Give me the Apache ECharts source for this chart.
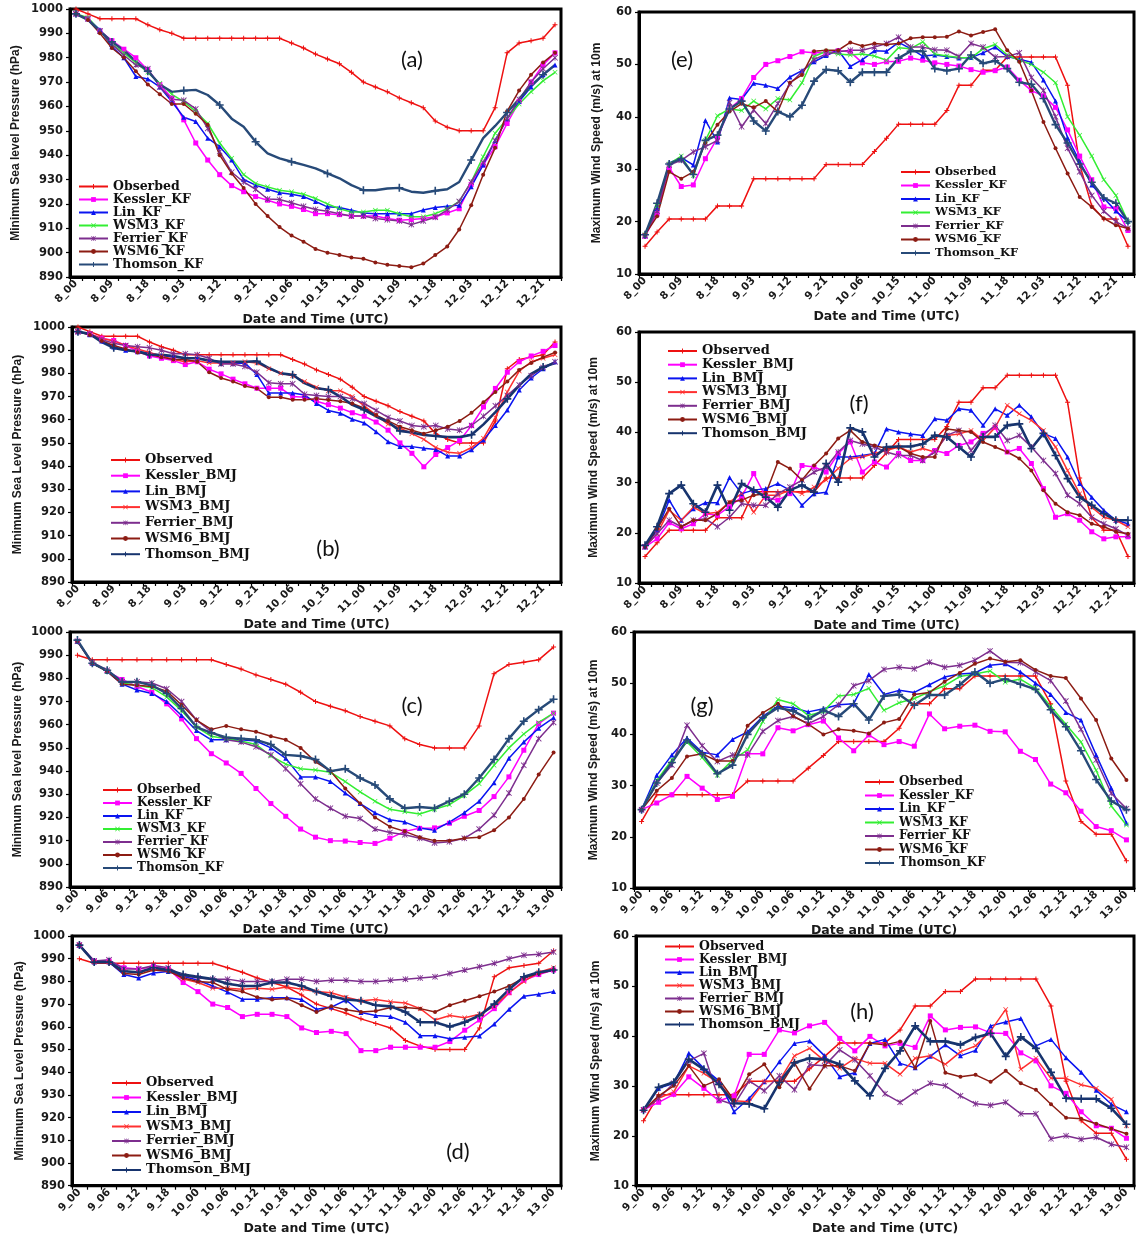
<!DOCTYPE html>
<html>
<head>
<meta charset="utf-8">
<script src="https://cdn.jsdelivr.net/npm/echarts@6/dist/echarts.min.js"></script>
<style>
html,body{margin:0;padding:0;background:#fff}
#chart{width:1137px;height:1236px}
</style>
</head>
<body>
<div id="chart"></div>
<script>
// ---- time axis (3-hourly, day_hour) ----
const catsLong = ['8_00','8_03','8_06','8_09','8_12','8_15','8_18','8_21','9_00','9_03','9_06','9_09','9_12','9_15','9_18','9_21','10_00','10_03','10_06','10_09','10_12','10_15','10_18','10_21','11_00','11_03','11_06','11_09','11_12','11_15','11_18','11_21','12_00','12_03','12_06','12_09','12_12','12_15','12_18','12_21','13_00'];
const catsShort = ['9_00','9_03','9_06','9_09','9_12','9_15','9_18','9_21','10_00','10_03','10_06','10_09','10_12','10_15','10_18','10_21','11_00','11_03','11_06','11_09','11_12','11_15','11_18','11_21','12_00','12_03','12_06','12_09','12_12','12_15','12_18','12_21','13_00'];

// ---- observed track (8_00 .. 13_00) ----
const obsPressure = [1000, 998, 996, 996, 996, 996, 993.5, 991.5, 990, 988, 988, 988, 988, 988, 988, 988, 988, 988, 986, 984, 981.5, 979.5, 977.5, 974, 970, 968, 966, 963.5, 961.5, 959.5, 954, 951.5, 950, 950, 950, 959.5, 982, 986, 987, 988, 993.5];
const obsWind = [15.3, 18, 20.5, 20.5, 20.5, 20.5, 23, 23, 23, 28.2, 28.2, 28.2, 28.2, 28.2, 28.2, 30.9, 30.9, 30.9, 30.9, 33.4, 35.9, 38.6, 38.6, 38.6, 38.6, 41.2, 46, 46, 48.9, 48.9, 51.4, 51.4, 51.4, 51.4, 51.4, 46, 30.9, 23, 20.5, 20.5, 15.3];

// ---- (a) MSLP, KF runs from 8_00 ----
const kesslerKF_a = [998, 996, 991, 987, 983.5, 980, 975, 969, 963.5, 954.5, 945, 938, 932, 927.5, 925, 923, 921.5, 920, 919, 917.7, 916, 916, 915.6, 915, 915, 915, 914, 913.3, 913.6, 914, 914.7, 916.3, 918, 928, 936, 943.5, 953, 962, 970, 977, 982];
const linKF_a = [998, 996, 991.5, 984.5, 980, 972.3, 971.3, 968, 962, 955.6, 953.8, 947, 943.5, 938, 930, 927.7, 926, 924.6, 924, 923, 921, 918.8, 918.5, 917.4, 916.3, 916, 916, 916, 916, 917.5, 918.5, 919, 919.5, 927, 936, 946, 955, 962, 968, 973, 977];
const wsm3KF_a = [998, 996.5, 991, 985.5, 982, 978, 974, 969.5, 965, 962, 958, 953, 945, 938.7, 932, 928.4, 927, 925.6, 925, 924, 922.2, 920, 918, 916.7, 916.7, 917.4, 917.4, 916, 914.7, 914.7, 916, 918, 921, 929, 939.4, 949, 955, 961, 966, 970.5, 974];
const ferrierKF_a = [998, 996, 991, 985.5, 981, 977, 975.5, 968, 963, 962.5, 959, 951, 941.5, 933, 929, 926, 922, 921.8, 920.5, 919, 917.7, 917, 916, 915, 915, 914, 913.5, 913, 911.5, 913, 914.5, 917.5, 921, 929, 937, 946, 955, 963, 970, 975.5, 980];
const wsm6KF_a = [998, 995.5, 990, 984, 980, 974.5, 969, 965, 961, 961, 957, 952.5, 940, 932.5, 926.5, 920, 915, 910.5, 907, 904.5, 901.5, 900, 899, 898, 897.5, 896, 895, 894.5, 894, 895.5, 899, 902.5, 909.5, 919.5, 932, 943, 958, 966.5, 973, 978, 982];
const thomsonKF_a = [998, 995.5, 991, 986.5, 983, 978.5, 974.5, 969, 966, 966.5, 966.8, 964.7, 960.6, 955, 951.7, 945.5, 940.7, 938.7, 937.3, 936, 934.6, 932.5, 930.5, 927.7, 925.6, 925.6, 926.3, 926.6, 925, 924.6, 925.4, 926, 929, 938, 947, 952, 957.5, 963, 968.5, 973, 977];

// ---- (b) MSLP, BMJ runs from 8_00 ----
const kesslerBMJ_b = [998, 997, 995.2, 994.2, 992, 989.5, 987.5, 986.5, 985.5, 983.8, 985, 981.8, 979.8, 977.5, 975.5, 973.6, 973.6, 973.6, 970, 969.7, 968, 966.5, 965, 963, 961.5, 959, 955.5, 950, 945.5, 939.7, 945, 948, 951, 957.5, 965.5, 973.5, 980.5, 985, 987.5, 989.5, 992];
const linBMJ_b = [998, 996.7, 994, 991.4, 990, 989.3, 988.8, 987.6, 987, 986.6, 986.5, 985.6, 984.4, 984.4, 984.4, 979.5, 971.5, 971.5, 971.5, 970.7, 967, 964, 962.8, 960.2, 958.6, 954.8, 950.5, 948.4, 948.4, 947.7, 947.2, 944.3, 944.3, 947, 951.3, 957.5, 964.2, 972.8, 978, 982, 985];
const wsm3BMJ_b = [998, 997, 995, 994, 992, 990.5, 989, 987.5, 986, 985, 985.5, 984.5, 984.5, 984.5, 985, 984.5, 982, 980, 979, 976.5, 974, 972.5, 972.5, 970, 966, 962, 958, 956.5, 954, 951.5, 948, 946, 945.5, 948, 952, 961, 972, 981, 985, 986.5, 988];
const ferrierBMJ_b = [998, 997, 994.5, 993, 992, 991.5, 991, 990, 988.5, 988.5, 988, 986.5, 984, 984, 983, 980.5, 976, 975.5, 975.5, 971, 970.5, 970, 970, 969, 967, 964, 961, 959.5, 957.5, 957, 957.5, 956, 955.5, 957.5, 961.5, 966, 970.5, 975, 979, 982.5, 985];
const wsm6BMJ_b = [998, 996.5, 994, 992, 990.5, 989, 988, 987, 986, 986, 985, 980.5, 978, 976.5, 974.5, 973.5, 969.7, 969.7, 968.6, 968.6, 969, 968.5, 968, 967, 965, 962, 959.5, 957, 955.5, 954, 955.5, 957, 959.5, 963, 967.5, 972, 976.5, 981.5, 984.5, 987, 989];
const thomsonBMJ_b = [998, 997, 993.5, 991, 990, 989.5, 988, 988, 987.5, 986.5, 986.5, 985.5, 985, 985, 985, 985.2, 982.3, 980, 979.4, 975.8, 973.6, 972.9, 970, 966.4, 964.3, 961.4, 959, 955.2, 954.5, 953.4, 953, 952.5, 952.5, 953.5, 958, 963.3, 969, 974.8, 979.8, 982.7, 984.5];

// ---- (c) MSLP, KF runs from 9_00 ----
const kesslerKF_c = [996, 986.5, 983, 979.5, 976.5, 974, 969, 962.5, 954, 947.5, 943.5, 939, 932.5, 926, 920.5, 915, 911.5, 910, 909.8, 909.2, 908.8, 911, 914, 915.3, 915.5, 917.5, 920.5, 923, 929, 937.5, 949, 960.5, 965];
const linKF_c = [996, 986.5, 983, 977.5, 975, 973.5, 970, 964, 957.5, 953.5, 953.5, 953.5, 953, 950, 945.5, 937.5, 937.5, 935.5, 930.5, 926, 922, 919, 918, 915.5, 914.5, 918, 922, 927, 935, 945.5, 952.5, 958.5, 963];
const wsm3KF_c = [996, 986.5, 983, 978, 977, 976, 972, 966, 959, 955, 954, 953, 951.5, 946.5, 943, 941, 940.5, 939.5, 935.5, 931, 927, 923.5, 922.5, 921.5, 923.5, 925.5, 929.5, 934.5, 942.5, 950, 956, 961, 965];
const ferrierKF_c = [996, 987, 983.5, 978.5, 978.5, 978, 975.5, 970, 962, 957, 953.5, 952.5, 950.5, 947, 941, 934.5, 928, 924, 920.5, 919.5, 915, 913.5, 912.5, 911, 909, 909.5, 911, 915, 921, 930.5, 942.5, 954, 961];
const wsm6KF_c = [996, 986.5, 983, 977.5, 977, 976.5, 974.5, 968.5, 962, 958, 959.5, 958, 957, 955, 953.5, 950, 944, 940, 932.5, 926, 920, 916, 914, 911.5, 910, 910, 911, 911.5, 914.5, 920, 928, 938.5, 948];
const thomsonKF_c = [996.5, 986.5, 983.5, 978.5, 978.5, 977, 973.5, 967, 959, 956.5, 954.5, 954, 953.5, 951.5, 947, 946.5, 945, 940, 941, 937, 934, 928, 924, 924.5, 924, 927, 930, 937, 945, 954, 961.5, 966.5, 971];

// ---- (d) MSLP, BMJ runs from 9_00 ----
const kesslerBMJ_d = [996, 989, 989, 986, 985.5, 986.5, 985.5, 979.5, 975.5, 970, 968.5, 964.5, 965.5, 965.5, 964.5, 959.5, 957.5, 958, 957, 949.5, 949.5, 951, 951, 951, 951, 953.5, 958.5, 963, 968, 975, 980.5, 983, 985];
const linBMJ_d = [996, 988.5, 988.5, 983, 981.5, 983.7, 984.4, 982.3, 980.5, 978, 975.3, 972.1, 972.1, 972.8, 972.8, 972, 967.7, 968.7, 971.8, 966.3, 965, 964.5, 962, 956.1, 956.1, 954.7, 955.4, 956, 961.2, 967.7, 973.5, 974.3, 975.5];
const wsm3BMJ_d = [996, 988.5, 988.5, 984.5, 984, 985.5, 985, 981, 979.5, 977, 977, 976.5, 977, 976.5, 977.5, 976.5, 975.5, 975, 973, 971.5, 972, 971, 970.5, 968, 963, 965, 964, 965.5, 969, 975, 980, 984, 986];
const ferrierBMJ_d = [996, 989, 989.5, 985.5, 985.5, 987, 986, 982.5, 981.5, 981, 981, 980, 980, 980, 981, 981, 980, 980.5, 980.5, 980, 980, 980.5, 981, 981.5, 982, 983.5, 985, 986.5, 988, 990, 991.5, 992, 993];
const wsm6BMJ_d = [996, 988.5, 988.5, 983.5, 983, 985, 984.5, 981.5, 980, 979.5, 976.5, 975.5, 973, 972, 972.5, 969.5, 966.5, 969, 967.5, 966.5, 967, 968.5, 968.5, 968, 966.5, 969.5, 971.5, 973.5, 975.5, 978, 981.5, 983.5, 985];
const thomsonBMJ_d = [996, 988.5, 988.5, 984.5, 984, 986, 985, 983, 982, 981, 979, 978, 978, 979.5, 979.5, 978, 975.5, 973.5, 972, 971.5, 969.5, 969, 966.5, 962, 962, 960, 962, 965, 970, 976.5, 982, 984, 985];

// ---- (e) max 10 m wind, KF runs from 8_00 ----
const kesslerKF_e = [17.2, 21.5, 30.3, 26.7, 27, 32, 36, 41.5, 43.5, 47.5, 50, 50.7, 51.5, 52.4, 52.2, 52.2, 52.6, 52.4, 50.3, 50, 50.5, 50.6, 51.2, 50.8, 50.3, 50, 49.7, 49, 48.5, 48.8, 49.5, 47, 45, 44, 41.8, 37.5, 32.5, 28, 22.8, 22.5, 18.3];
const linKF_e = [17.4, 22.5, 31.2, 32.2, 30.8, 39.3, 35.2, 43.6, 43.3, 46.4, 46, 45.4, 47.6, 48.8, 50.5, 51.7, 52.7, 49.6, 50.9, 52.6, 52.5, 54.2, 53, 51.6, 51.8, 51.5, 51.2, 51.3, 52.2, 53.3, 51.5, 51, 50.4, 47, 43, 36, 31.5, 27, 24.5, 22, 20];
const wsm3KF_e = [17.5, 23, 31, 32.5, 28.8, 35.5, 40.2, 41.5, 41.2, 43, 41.5, 43.5, 43.2, 46.5, 51.5, 52.5, 52, 51.8, 52, 51.6, 50.8, 53.2, 53, 54.3, 52, 51.6, 51.3, 51.2, 53, 53.8, 51.8, 50.8, 50, 48.5, 46.5, 40, 36.5, 32.5, 28, 25, 20];
const ferrierKF_e = [17.3, 22, 30.8, 31.7, 33.3, 34.3, 35.5, 42.7, 38.1, 41.3, 38.7, 42.5, 46.3, 48.6, 50.9, 52, 52.4, 52.7, 52.7, 53.3, 54, 55.2, 53.3, 53.3, 52.8, 52.7, 51.5, 54, 53.3, 51.4, 51.5, 52.2, 47.5, 45, 40, 34, 29.5, 25, 22, 20, 18.7];
const wsm6KF_e = [17.5, 21, 29.5, 28.2, 29.5, 35, 38.5, 41, 42.5, 41.8, 43, 41, 46.5, 48, 52.5, 52.7, 52.7, 54.2, 53.5, 54, 53.8, 54, 55, 55.2, 55.2, 55.3, 56.3, 55.5, 56.2, 56.7, 52.7, 50.5, 45, 39, 34, 29.2, 24.7, 22.8, 20.6, 19.3, 18.7];
const thomsonKF_e = [17.5, 23.5, 31, 32, 29, 35.5, 36.5, 41.5, 43, 39.2, 37.3, 41, 40, 42.2, 46.8, 49, 48.8, 46.6, 48.5, 48.5, 48.5, 51.2, 52.5, 52.5, 49.2, 48.8, 49.2, 51.8, 50.2, 50.7, 49.2, 46.6, 46.2, 43.5, 38.5, 35, 31, 27.5, 24.5, 23.5, 20];

// ---- (f) max 10 m wind, BMJ runs from 8_00 ----
const kesslerBMJ_f = [17.2, 18.8, 22, 20.8, 21.8, 23.8, 23.5, 25.2, 27.1, 31.8, 27.1, 26.5, 27.8, 33.4, 33.1, 32.1, 35.8, 38.1, 32.1, 34.1, 33.1, 35.8, 34.4, 34.4, 36.4, 35.8, 37.4, 38.1, 39.8, 41, 36.1, 36.8, 33.8, 28.8, 23.1, 23.8, 22.5, 20.2, 18.8, 19.2, 19.2];
const linBMJ_f = [17.2, 20.5, 26.5, 22.5, 24.8, 26, 26, 31, 27.8, 28.5, 28.8, 29.8, 28.5, 25.5, 27.8, 28.1, 35.1, 35.1, 35.4, 35.8, 40.7, 40.1, 39.7, 39.4, 42.7, 42.4, 44.7, 44.4, 41.4, 44.7, 43.4, 45.4, 43.1, 39.8, 38.8, 35.1, 29.8, 27.1, 24.5, 22.5, 21.8];
const wsm3BMJ_f = [17.2, 19.8, 24.5, 22.5, 25.1, 23.8, 24.1, 26.1, 27.8, 24.1, 27.5, 27.5, 28.5, 27.8, 29.1, 30.5, 32.8, 34.8, 35.1, 35.8, 36.4, 37.1, 36.1, 36.8, 36.1, 39.4, 39.7, 40.4, 38.4, 41, 45.4, 43.7, 42.4, 40.4, 37.1, 32.4, 27.8, 25.1, 23.1, 22.5, 21.2];
const ferrierBMJ_f = [17.2, 19.8, 22.5, 21.2, 22.5, 22.8, 21.2, 23.1, 25.8, 25.5, 25.5, 27.8, 29.1, 30.5, 32.1, 33.1, 36.1, 38.4, 37.7, 37.1, 36.1, 35.4, 35.4, 34.4, 36.1, 39.4, 40.4, 36.4, 39.4, 41.4, 38.4, 39.4, 37.1, 34.4, 31.8, 27.5, 25.8, 23.1, 21.8, 20.8, 19.5];
const wsm6BMJ_f = [17.2, 20.8, 24.8, 21.2, 22.5, 22.5, 23.8, 26.1, 26.5, 27.5, 27.8, 34.1, 32.8, 30.5, 33.4, 35.8, 38.8, 40.4, 38.1, 37.4, 36.8, 37.1, 35.8, 35.1, 35.1, 40.7, 40.4, 40.1, 38.1, 37.1, 36.1, 34.8, 32.4, 28.5, 25.8, 24.1, 23.5, 21.8, 21.2, 20.2, 19.8];
const thomsonBMJ_f = [17.5, 21.2, 27.8, 29.5, 25.8, 24.1, 29.5, 24.5, 29.8, 28.5, 27.1, 25.1, 28.5, 29.5, 28.1, 33.8, 30.1, 40.9, 40.1, 35.1, 37.1, 37.2, 37.2, 37.7, 39.4, 39.1, 37.1, 35.1, 39.1, 39.1, 41.4, 41.7, 36.8, 39.8, 35.4, 30.8, 27.1, 25.5, 23.8, 22.5, 22.5];

// ---- (g) max 10 m wind, KF runs from 9_00 ----
const kesslerKF_g = [25.3, 26.6, 28.2, 31.8, 29.5, 27.3, 27.9, 36.2, 36.2, 41.3, 40.7, 41.9, 42.6, 39.3, 36.8, 39.9, 38, 38.6, 37.7, 44, 41.1, 41.6, 41.8, 40.6, 40.5, 36.7, 35.1, 30.3, 28.6, 25, 22, 21.2, 19.4];
const linKF_g = [25.3, 32, 36, 39.3, 36.5, 36, 39, 40.5, 43.5, 45.5, 45.2, 44.4, 45, 45.8, 46, 51.7, 47.8, 48.6, 48.2, 49.7, 51.2, 51.8, 52, 53.5, 53.8, 52.2, 50, 47.8, 44.3, 42.8, 36, 29.5, 22.7];
const wsm3KF_g = [25.3, 31, 35, 38.5, 35.5, 32, 35, 37, 42.5, 46.8, 46, 43.7, 44.5, 47.5, 47.8, 49, 44.7, 46.2, 47, 48.3, 49.5, 51.3, 51.8, 52.4, 50.2, 50.8, 49, 45.5, 42, 38.5, 33, 26, 22.3];
const ferrierKF_g = [25.3, 30.5, 34, 41.8, 37.8, 34.7, 36, 36, 40.6, 42.7, 43.5, 42.1, 43.5, 45.8, 49.5, 50.5, 52.7, 53.1, 52.8, 54.1, 53.1, 53.5, 54.5, 56.3, 54.1, 54, 52.2, 50.5, 46.5, 41, 35, 28.5, 25.5];
const wsm6KF_g = [25.3, 29, 31.5, 35.7, 36.2, 34.8, 34.8, 41.7, 44.2, 46, 43.6, 42, 40, 41, 40.7, 40.2, 42.3, 43, 47.8, 48.2, 50.3, 52, 53.8, 54.8, 54.2, 54.5, 52.6, 51.4, 51, 47, 42.8, 35.3, 31.1];
const thomsonKF_g = [25.3, 30.5, 34.5, 38.9, 36.2, 32.3, 34, 40, 43.3, 45.2, 44.6, 43, 44.7, 43.5, 46, 42.8, 47.5, 47.8, 45.7, 47.7, 47.7, 49.7, 52.2, 50, 50.8, 49.8, 48.8, 44.8, 41.5, 36.8, 31.2, 27, 25.3];

// ---- (h) max 10 m wind, BMJ runs from 9_00 ----
const kesslerBMJ_h = [25.2, 26.7, 28.3, 31.8, 29.5, 27, 28, 36.3, 36.3, 41.2, 40.6, 42, 42.7, 39.5, 37, 39.9, 38, 38.5, 37.7, 44, 41.2, 41.7, 41.8, 40.6, 40.5, 36.6, 35, 30, 28.5, 24.8, 22, 21.5, 19.5];
const linBMJ_h = [25.2, 29.5, 30.5, 36.5, 33.5, 31, 24.8, 27.5, 30.8, 34.8, 38.5, 39, 36, 31.8, 32.6, 38.5, 39.3, 34.5, 33.6, 35.9, 38.2, 36, 37.1, 42, 42.8, 43.5, 38, 39.3, 35.6, 32.7, 29.1, 26.3, 24.8];
const wsm3BMJ_h = [25.2, 27.5, 28.8, 34, 32.5, 30.5, 27, 26.8, 30.8, 31, 36, 37.5, 35, 33.5, 35.5, 34.5, 34.5, 32.3, 35.5, 36, 34.3, 36.8, 38, 41, 45.3, 33.3, 35.5, 31.5, 31.5, 30.2, 29.5, 27.3, 22];
const ferrierBMJ_h = [25.2, 27.5, 30.5, 35, 36.5, 27.2, 26.2, 31, 29, 32, 29.2, 34.2, 34, 37.2, 35.2, 32, 28.4, 26.7, 28.8, 30.5, 30, 28, 26.4, 26.1, 26.7, 24.4, 24.4, 19.4, 20, 19.3, 19.7, 18.3, 17.7];
const wsm6BMJ_h = [25.1, 28, 30, 34, 30, 31.3, 27.1, 32.3, 34.3, 29.7, 34.6, 29.4, 34, 34, 33, 38.5, 38.2, 38.9, 33.6, 43, 32.6, 31.8, 32.2, 30.8, 33, 30.5, 29.2, 26.3, 23.6, 23.4, 22.4, 21.4, 20.4];
const thomsonBMJ_h = [25.1, 29.7, 30.7, 35.3, 33.3, 30.3, 26.5, 26.4, 25.4, 30.7, 34.6, 35.5, 35.3, 34.3, 31, 28, 33.5, 37, 42, 38.9, 38.9, 38.2, 39.7, 40.5, 35.9, 39.8, 37.5, 32.7, 27.5, 27.4, 27.4, 25.5, 22.3];

// ---- legend names ----
const namesKF = ['Obserbed', 'Kessler_KF', 'Lin_KF', 'WSM3_KF', 'Ferrier_KF', 'WSM6_KF', 'Thomson_KF'];
const namesBMJ = ['Observed', 'Kessler_BMJ', 'Lin_BMJ', 'WSM3_BMJ', 'Ferrier_BMJ', 'WSM6_BMJ', 'Thomson_BMJ'];

// ---- marker shapes and line styles per scheme ----
const PLUS = 'path://M4,0H6V4H10V6H6V10H4V6H0V4H4Z';
const CROSS = 'path://M1,0L5,4L9,0L10,1L6,5L10,9L9,10L5,6L1,10L0,9L4,5L0,1Z';
const STAR = 'path://M1,0L5,4L9,0L10,1L6,5L10,9L9,10L5,6L1,10L0,9L4,5L0,1Z M4.4,0H5.6V10H4.4Z';

function styles(scheme) {
  const bmj = scheme === 'BMJ';
  return [
    { color: '#EE1111', symbol: PLUS, size: 5, width: 1.5 },
    { color: '#FF00FF', symbol: 'rect', size: 5, width: 1.5 },
    { color: '#0A14F0', symbol: 'triangle', size: 5, width: 1.5 },
    bmj ? { color: '#FF3030', symbol: CROSS, size: 5, width: 1.5 }
        : { color: '#33EE33', symbol: CROSS, size: 5, width: 1.5 },
    { color: '#7D2E8E', symbol: STAR, size: 6, width: 1.5 },
    { color: '#8C1C13', symbol: 'circle', size: 4, width: 1.5 },
    bmj ? { color: '#17346E', symbol: PLUS, size: 8, width: 2.6 }
        : { color: '#274A78', symbol: PLUS, size: 8, width: 2.4 }
  ];
}

const P_NAME_L = 'Minimum Sea level Pressure (hPa)';
const P_NAME_U = 'Minimum Sea Level Pressure (hPa)';
const W_NAME = 'Maximum Wind Speed (m/s) at 10m';

const panels = [
  { tag: '(a)', scheme: 'KF', kind: 'p', cats: catsLong, yName: P_NAME_L,
    box: [70, 9, 491, 268], yGap: 48, xGap: 33,
    leg: { left: 78, top: 180, fs: 12.5, lh: 12.5, gap: 0 }, mark: [412, 60],
    data: [obsPressure, kesslerKF_a, linKF_a, wsm3KF_a, ferrierKF_a, wsm6KF_a, thomsonKF_a] },
  { tag: '(b)', scheme: 'BMJ', kind: 'p', cats: catsLong, yName: P_NAME_U,
    box: [72, 327, 489, 255], yGap: 48, xGap: 33,
    leg: { left: 110, top: 453, fs: 13, lh: 14, gap: 1.7 }, mark: [328, 549],
    data: [obsPressure, kesslerBMJ_b, linBMJ_b, wsm3BMJ_b, ferrierBMJ_b, wsm6BMJ_b, thomsonBMJ_b] },
  { tag: '(c)', scheme: 'KF', kind: 'p', cats: catsShort, yName: P_NAME_L,
    box: [70, 632, 491, 255], yGap: 46, xGap: 32,
    leg: { left: 102, top: 783.5, fs: 12, lh: 13, gap: 0 }, mark: [412, 706],
    data: [obsPressure.slice(8), kesslerKF_c, linKF_c, wsm3KF_c, ferrierKF_c, wsm6KF_c, thomsonKF_c] },
  { tag: '(d)', scheme: 'BMJ', kind: 'p', cats: catsShort, yName: P_NAME_U,
    box: [72, 936, 489, 253], yGap: 46, xGap: 33,
    leg: { left: 111, top: 1076, fs: 13, lh: 14, gap: 0.5 }, mark: [458, 1152],
    data: [obsPressure.slice(8), kesslerBMJ_d, linBMJ_d, wsm3BMJ_d, ferrierBMJ_d, wsm6BMJ_d, thomsonBMJ_d] },
  { tag: '(e)', scheme: 'KF', kind: 'w', cats: catsLong, yName: W_NAME,
    box: [639, 12, 495, 262], yGap: 36, xGap: 35,
    leg: { left: 900, top: 165.5, fs: 11.5, lh: 13, gap: 0.5 }, mark: [682, 60],
    data: [obsWind, kesslerKF_e, linKF_e, wsm3KF_e, ferrierKF_e, wsm6KF_e, thomsonKF_e] },
  { tag: '(f)', scheme: 'BMJ', kind: 'w', cats: catsLong, yName: W_NAME,
    box: [639, 332, 495, 251], yGap: 39, xGap: 33,
    leg: { left: 667, top: 344.5, fs: 13, lh: 13, gap: 0.7 }, mark: [859, 404],
    data: [obsWind, kesslerBMJ_f, linBMJ_f, wsm3BMJ_f, ferrierBMJ_f, wsm6BMJ_f, thomsonBMJ_f] },
  { tag: '(g)', scheme: 'KF', kind: 'w', cats: catsShort, yName: W_NAME,
    box: [634, 632, 500, 256], yGap: 34, xGap: 31,
    leg: { left: 864, top: 775.5, fs: 12, lh: 13, gap: 0.5 }, mark: [702, 706],
    data: [obsWind.slice(8), kesslerKF_g, linKF_g, wsm3KF_g, ferrierKF_g, wsm6KF_g, thomsonKF_g] },
  { tag: '(h)', scheme: 'BMJ', kind: 'w', cats: catsShort, yName: W_NAME,
    box: [636, 936, 498, 254], yGap: 34, xGap: 32,
    leg: { left: 664, top: 940, fs: 12.5, lh: 11.7, gap: 0 }, mark: [862, 1012],
    data: [obsWind.slice(8), kesslerBMJ_h, linBMJ_h, wsm3BMJ_h, ferrierBMJ_h, wsm6BMJ_h, thomsonBMJ_h] }
];

const TICK_FONT = { fontFamily: 'DejaVu Sans', fontWeight: 'bold', color: '#1a1a1a' };
const grids = [], xAxes = [], yAxes = [], series = [], legends = [], marks = [];

panels.forEach((p, i) => {
  const [l, t, w, h] = p.box;
  grids.push({ left: l, top: t, width: w, height: h, show: true,
               borderColor: '#000', borderWidth: 3, backgroundColor: 'transparent' });
  const longAxis = p.cats.length > 33;
  xAxes.push({
    gridIndex: i, type: 'category', data: p.cats, boundaryGap: true,
    name: 'Date and Time (UTC)', nameLocation: 'middle', nameGap: p.xGap + 1,
    nameTextStyle: { fontFamily: 'DejaVu Sans', fontWeight: 'bold', fontSize: 12.5, color: '#1a1a1a' },
    axisLine: { show: true, lineStyle: { color: '#000', width: 3 } },
    axisTick: { show: true, interval: 0, length: 4, lineStyle: { color: '#000', width: 1.2 } },
    axisLabel: Object.assign({ interval: longAxis ? 2 : 1, rotate: 45, margin: 5, fontSize: 10.5 }, TICK_FONT),
    splitLine: { show: false }
  });
  const pres = p.kind === 'p';
  yAxes.push({
    gridIndex: i, type: 'value', min: pres ? 890 : 10, max: pres ? 1000 : 60, interval: 10,
    name: p.yName, nameLocation: 'middle', nameGap: p.yGap,
    nameTextStyle: { fontFamily: 'Liberation Sans', fontWeight: 'bold', fontSize: 12, color: '#1a1a1a' },
    axisLine: { show: true, lineStyle: { color: '#000', width: 3 } },
    axisTick: { show: true, length: 4, lineStyle: { color: '#000', width: 1.2 } },
    axisLabel: Object.assign({ margin: 7, fontSize: 11.5, formatter: v => String(v) }, TICK_FONT),
    splitLine: { show: false }
  });
  const names = p.scheme === 'KF' ? namesKF : namesBMJ;
  const st = styles(p.scheme);
  p.data.forEach((arr, k) => {
    series.push({
      type: 'line', name: names[k], xAxisIndex: i, yAxisIndex: i, data: arr,
      symbol: st[k].symbol, symbolSize: st[k].size, showSymbol: true,
      lineStyle: { color: st[k].color, width: st[k].width },
      itemStyle: { color: st[k].color },
      emphasis: { disabled: true }
    });
  });
  legends.push({
    orient: 'vertical', left: p.leg.left, top: p.leg.top, padding: 0,
    itemWidth: 29, itemHeight: 6, itemGap: p.leg.gap, selectedMode: false,
    data: names,
    textStyle: { fontFamily: 'DejaVu Serif', fontWeight: 'bold', fontSize: p.leg.fs,
                 lineHeight: p.leg.lh, color: '#111' }
  });
  marks.push({ type: 'text', x: p.mark[0], y: p.mark[1], z: 100,
    style: { text: p.tag, fontFamily: 'Lato', fontSize: 22, fill: '#111',
             align: 'center', verticalAlign: 'middle' } });
});

const chart = echarts.init(document.getElementById('chart'), null, { renderer: 'canvas' });
chart.setOption({
  animation: false,
  backgroundColor: '#ffffff',
  grid: grids, xAxis: xAxes, yAxis: yAxes, series: series, legend: legends,
  graphic: marks
});
</script>
</body>
</html>
